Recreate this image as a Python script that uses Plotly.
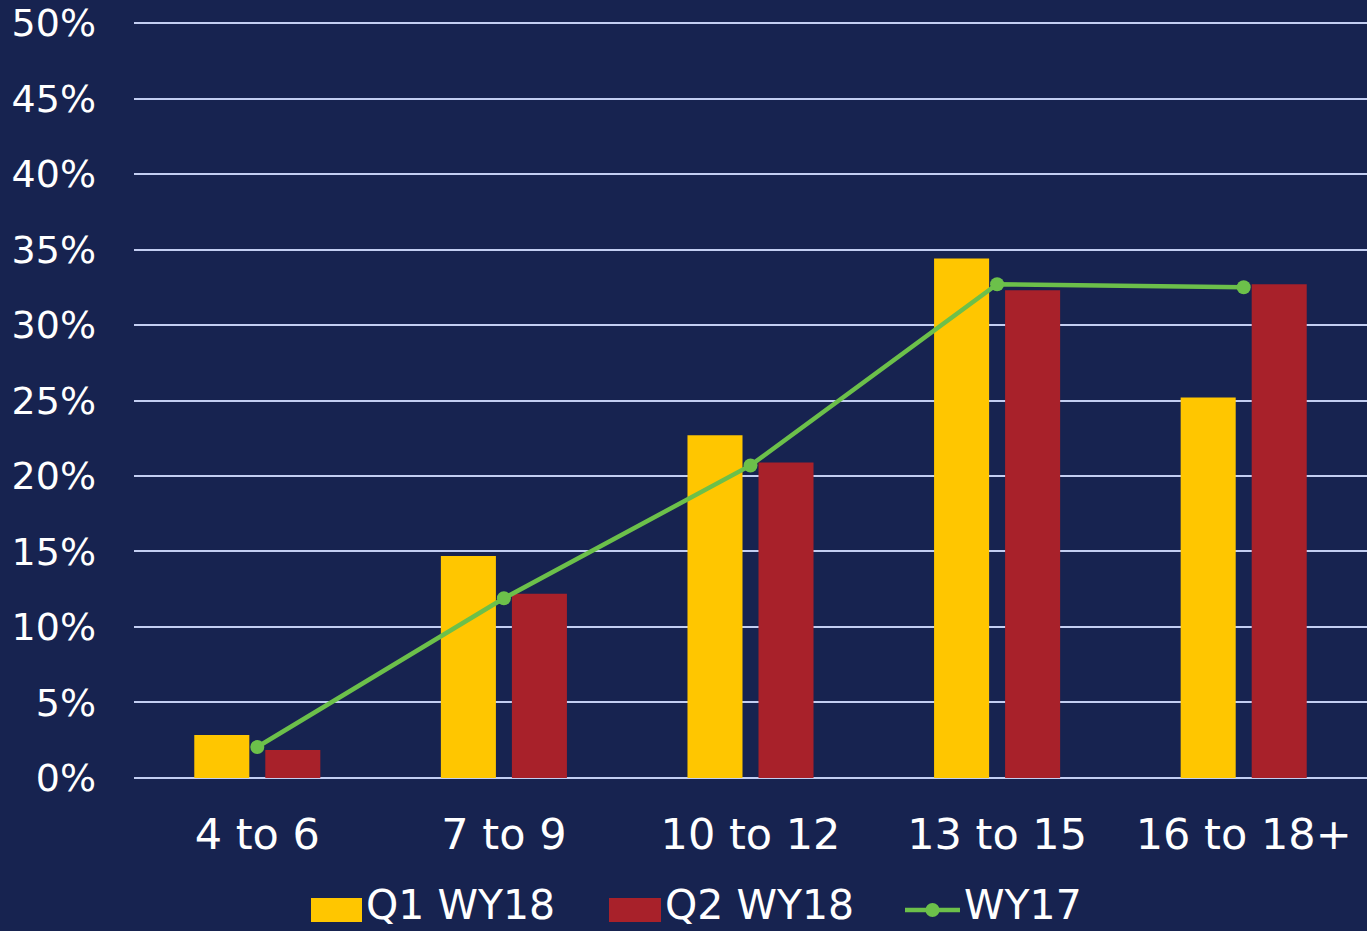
import plotly.graph_objects as go

categories = ["4 to 6", "7 to 9", "10 to 12", "13 to 15", "16 to 18+"]
q1_wy18 = [0.0285, 0.147, 0.227, 0.344, 0.252]
q2_wy18 = [0.0185, 0.122, 0.209, 0.323, 0.327]
wy17 = [0.0205, 0.119, 0.207, 0.327, 0.325]
y_ticks = [0, 0.05, 0.10, 0.15, 0.20, 0.25, 0.30, 0.35, 0.40, 0.45, 0.50]
y_tick_labels = ["0%", "5%", "10%", "15%", "20%", "25%", "30%", "35%", "40%", "45%", "50%"]
series_names = ["Q1 WY18", "Q2 WY18", "WY17"]

BG = "#172350"
YELLOW = "#FFC600"
RED = "#A8212A"
GREEN = "#6CC04A"
FONT = "Verdana, DejaVu Sans, sans-serif"

W, H = 1367, 931
PAD = 0.002  # small range padding so the 0% and 50% gridlines are drawn
ML, MR, MT, MB = 134, 0, 20, 150
PW, PH = W - ML - MR, H - MT - MB


def px(xp):
    return (xp - ML) / PW


def py(yp):
    return (H - MB - yp) / PH


fig = go.Figure()
fig.add_trace(go.Bar(x=categories, y=q1_wy18, name=series_names[0],
                     marker=dict(color=YELLOW, line=dict(width=0))))
fig.add_trace(go.Bar(x=categories, y=q2_wy18, name=series_names[1],
                     marker=dict(color=RED, line=dict(width=0))))
fig.add_trace(go.Scatter(x=categories, y=wy17, name=series_names[2], mode="lines+markers",
                         line=dict(color=GREEN, width=4.5),
                         marker=dict(color=GREEN, size=14)))

# custom legend (large swatches like the original)
shapes = []
annotations = []
leg_y = 905
shapes.append(dict(type="rect", xref="paper", yref="paper",
                   x0=px(311), x1=px(362), y0=py(922), y1=py(898),
                   fillcolor=YELLOW, line=dict(width=0)))
shapes.append(dict(type="rect", xref="paper", yref="paper",
                   x0=px(609), x1=px(661), y0=py(922), y1=py(898),
                   fillcolor=RED, line=dict(width=0)))
shapes.append(dict(type="line", xref="paper", yref="paper",
                   x0=px(905), x1=px(960), y0=py(910), y1=py(910),
                   line=dict(color=GREEN, width=4.5)))
shapes.append(dict(type="circle", xref="paper", yref="paper",
                   x0=px(925.5), x1=px(939.5), y0=py(917), y1=py(903),
                   fillcolor=GREEN, line=dict(width=0)))
for name, xl in zip(series_names, [365, 664, 963]):
    annotations.append(dict(text=name, xref="paper", yref="paper",
                            x=px(xl), y=py(leg_y), xanchor="left", yanchor="middle",
                            showarrow=False, borderpad=0,
                            font=dict(size=41, family=FONT, color="white")))

fig.update_layout(
    width=W, height=H,
    paper_bgcolor=BG, plot_bgcolor=BG,
    margin=dict(l=ML, r=MR, t=MT, b=MB),
    barmode="group", bargap=0.424, bargroupgap=0.225,
    font=dict(family=FONT, color="white"),
    showlegend=False,
    shapes=shapes,
    annotations=annotations,
)
fig.update_xaxes(showgrid=False, showline=False, zeroline=False,
                 tickfont=dict(size=43, color="white"), ticks="", ticklabelstandoff=24)
fig.update_yaxes(range=[-PAD, 0.5 + PAD], tickvals=y_ticks, ticktext=y_tick_labels,
                 showgrid=True, gridcolor="#C3CEF2", gridwidth=2,
                 zeroline=False, showline=False,
                 tickfont=dict(size=38, color="white"), ticks="", ticklabelstandoff=37)

fig.write_html("out.html", config={"displayModeBar": False},
               post_script="document.body.style.margin='0';")
